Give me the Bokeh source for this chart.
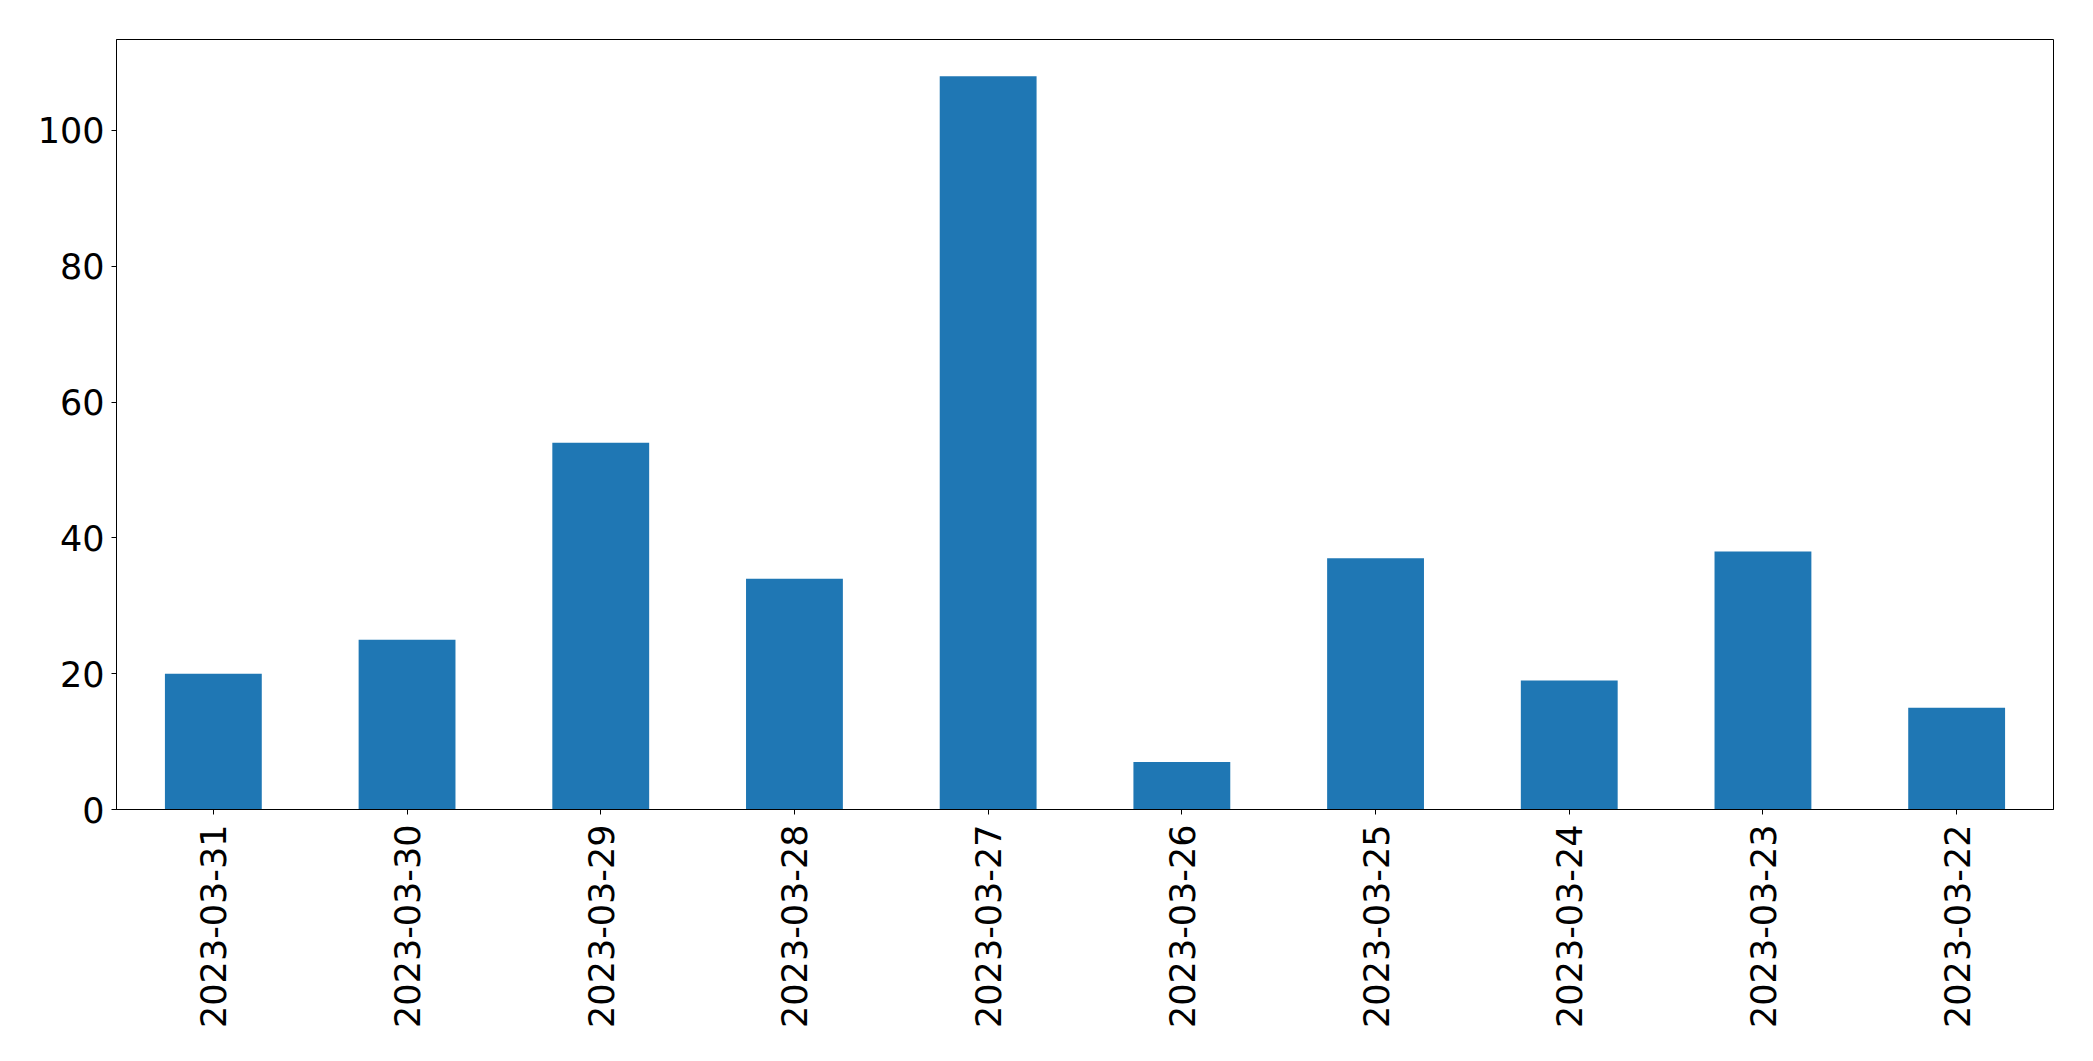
import math
from bokeh.plotting import figure
from bokeh.models import ColumnDataSource, FactorRange, Range1d, FixedTicker
from bokeh.embed import file_html
from bokeh.resources import INLINE

dates = ["2023-03-31", "2023-03-30", "2023-03-29", "2023-03-28", "2023-03-27",
         "2023-03-26", "2023-03-25", "2023-03-24", "2023-03-23", "2023-03-22"]
counts = [20, 25, 54, 34, 108, 7, 37, 19, 38, 15]
y_ticks = [0, 20, 40, 60, 80, 100]

source = ColumnDataSource(data=dict(dates=dates, counts=counts))

p = figure(
    x_range=FactorRange(*dates),
    y_range=Range1d(0, max(counts) * 1.05),
    frame_width=1937, frame_height=770,
    min_border_left=116, min_border_top=39, min_border_right=24, min_border_bottom=230,
    output_backend="svg", toolbar_location=None,
    background_fill_color="white", border_fill_color="white",
)

p.vbar(x="dates", top="counts", width=0.5, source=source,
       fill_color="#1f77b4", line_color=None)

p.xgrid.visible = False
p.ygrid.visible = False
p.outline_line_color = "black"
p.outline_line_width = 1
p.outline_line_alpha = 1

for ax in (p.xaxis[0], p.yaxis[0]):
    ax.major_label_text_font = "DejaVu Sans"
    ax.major_label_text_font_size = "35px"
    ax.major_label_text_color = "black"
    ax.axis_line_color = "black"
    ax.major_tick_line_color = "black"
    ax.major_tick_out = 5
    ax.major_tick_in = 0
    ax.minor_tick_line_color = None

p.yaxis[0].ticker = FixedTicker(ticks=y_ticks)
p.yaxis[0].major_label_standoff = 7
p.xaxis[0].major_label_orientation = math.pi / 2
p.xaxis[0].major_label_standoff = 10

open("out.html", "w").write(file_html(p, INLINE))
